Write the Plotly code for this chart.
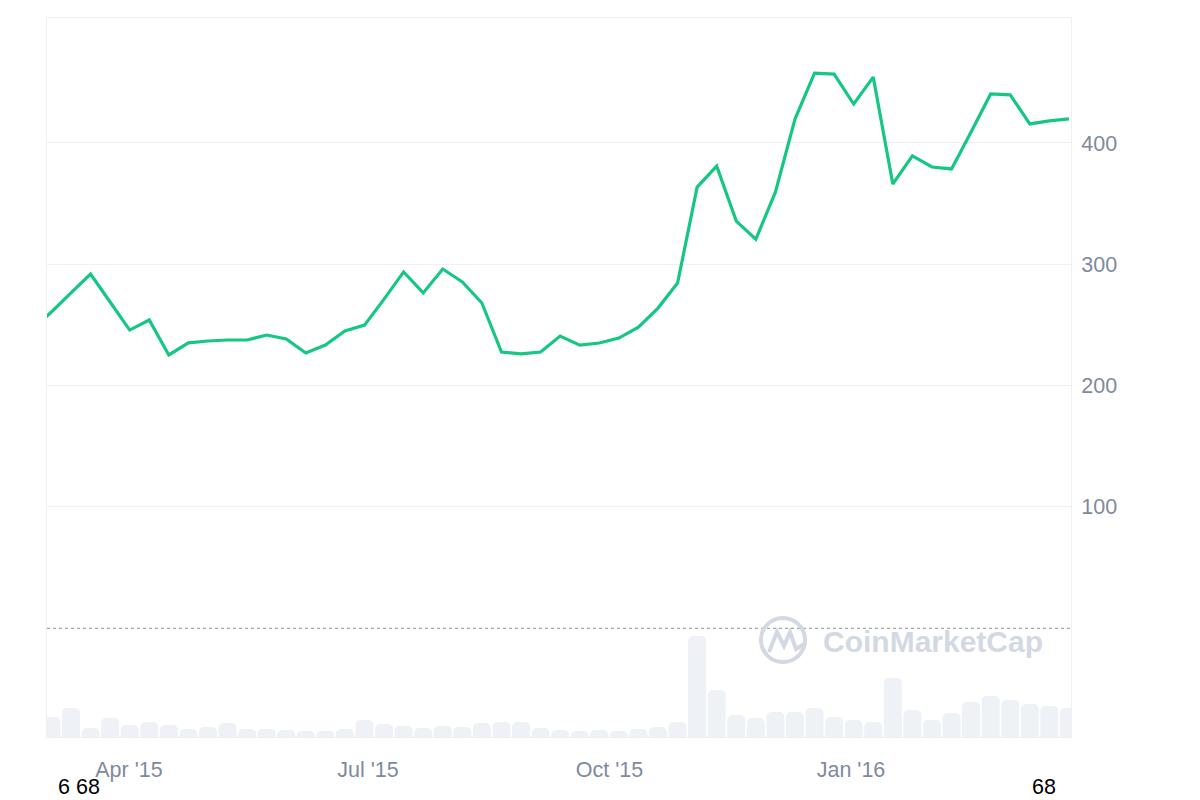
import pandas as pd
import plotly.graph_objects as go

# ---- data ----
start_date = "2015-02-23"
end_date = "2016-03-24"
n_points = 54
dates = pd.date_range(start_date, end_date, periods=n_points)

price = [246, 260.7, 276.4, 292.0, 268.9, 245.8, 254.1, 225.3, 235.2, 236.8,
         237.6, 237.6, 241.7, 238.4, 226.9, 233.4, 245.0, 249.9, 271.3, 293.7,
         276.4, 296.1, 285.4, 268.1, 227.7, 226.1, 227.7, 240.9, 233.4, 235.1,
         239.2, 248.2, 263.9, 284.5, 363.6, 380.9, 335.6, 320.7, 359.5, 419.7,
         457.6, 456.8, 432.1, 454.3, 366.2, 389.3, 380.2, 378.6, 409.1, 440.4,
         439.6, 415.7, 418.2, 419.8]

volume = [85, 100, 145, 45, 95, 60, 75, 60, 40, 50,
          70, 40, 40, 35, 30, 30, 40, 85, 65, 55,
          45, 55, 50, 70, 75, 75, 45, 35, 30, 35,
          30, 40, 50, 75, 505, 235, 110, 95, 125, 125,
          145, 100, 85, 75, 295, 135, 85, 120, 175, 205,
          185, 165, 155, 145]

price_ticks = [100, 200, 300, 400]
price_range = [-89.6, 503]
volume_range = [0, 3595]
x_range = ["2015-02-28 18:30", "2016-03-24 19:00"]

GREEN = "#16c784"
BAR = "#eef1f5"
GRID = "#eef0f3"
TICK = "#808a9d"
FONT = "Arial, Liberation Sans, sans-serif"

fig = go.Figure()

fig.add_trace(go.Bar(
    x=dates, y=volume, yaxis="y2",
    marker=dict(color=BAR, line=dict(width=0)),
    hoverinfo="skip", showlegend=False,
))

fig.add_trace(go.Scatter(
    x=dates, y=price, mode="lines",
    line=dict(color=GREEN, width=3.2),
    showlegend=False,
))

fig.update_layout(
    width=1200, height=800,
    margin=dict(l=47, r=129, t=18, b=63),
    paper_bgcolor="white", plot_bgcolor="white",
    bargap=0.08, barcornerradius=5,
    font=dict(family=FONT, size=21.5, color=TICK),
    xaxis=dict(
        type="date", range=x_range,
        tick0="2015-01-01", dtick="M3", tickformat="%b '%y",
        showgrid=False, zeroline=False,
        showline=True, mirror=True, linecolor=GRID, linewidth=1,
        ticks="outside", ticklen=13, tickcolor="rgba(0,0,0,0)",
        tickfont=dict(family=FONT, size=21.5, color=TICK),
    ),
    yaxis=dict(
        range=price_range, side="right",
        tickvals=price_ticks,
        showgrid=True, gridcolor=GRID, gridwidth=1,
        zeroline=False,
        showline=True, mirror=True, linecolor=GRID, linewidth=1,
        ticks="outside", ticklen=5, tickcolor="rgba(0,0,0,0)",
        tickfont=dict(family=FONT, size=21.5, color=TICK),
    ),
    yaxis2=dict(
        range=volume_range, overlaying="y", visible=False,
    ),
)

# dotted zero line
fig.add_shape(type="line", xref="paper", yref="y", x0=0, x1=1, y0=0, y1=0,
              line=dict(color="#8a8f99", width=1, dash="dot"), layer="above")


def px(x):
    return (x - 47) / 1024


def py(y):
    return (737 - y) / 719


# watermark logo
WM = "#d3d9e2"
fig.add_shape(type="circle", xref="paper", yref="paper",
              x0=px(761), x1=px(805), y0=py(662), y1=py(618),
              line=dict(color=WM, width=4), layer="above")
wave = [(769, 652), (777, 632), (784, 646), (790, 632), (796, 649), (806, 643)]
path = "M " + " L ".join(f"{px(a):.5f},{py(b):.5f}" for a, b in wave)
fig.add_shape(type="path", xref="paper", yref="paper", path=path,
              line=dict(color=WM, width=4), layer="above")
fig.add_annotation(xref="paper", yref="paper",
                   x=px(821), y=py(641),
                   xanchor="left", yanchor="middle",
                   text="<b>CoinMarketCap</b>", showarrow=False,
                   font=dict(family=FONT, size=30, color=WM))

# stray labels under the axis
fig.add_annotation(xref="paper", yref="paper",
                   x=px(56), y=py(787),
                   xanchor="left", yanchor="middle", text="6 68",
                   showarrow=False, font=dict(family=FONT, size=21.5, color="black"))
fig.add_annotation(xref="paper", yref="paper",
                   x=px(1044), y=py(787),
                   xanchor="center", yanchor="middle", text="68",
                   showarrow=False, font=dict(family=FONT, size=21.5, color="black"))

fig.write_html("out.html")
